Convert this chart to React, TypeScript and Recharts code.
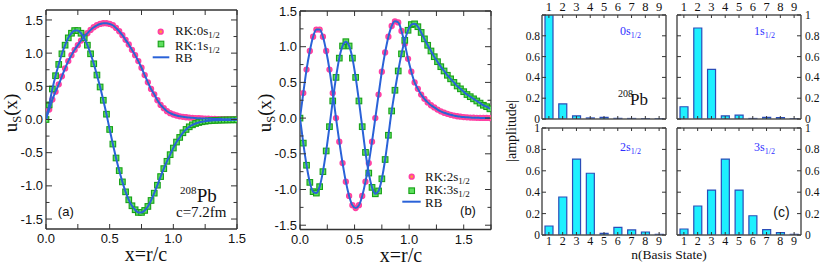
import React from 'react';
import { ComposedChart, BarChart, Bar, Line, Scatter, XAxis, YAxis } from 'recharts';

// panel (a): 208Pb, c = 7.2 fm
const xA = [
  0, 0.025, 0.05, 0.075, 0.1, 0.125, 0.15, 0.175, 0.2, 0.225, 0.25, 0.275, 0.3, 0.325, 0.35, 0.375,
  0.4, 0.425, 0.45, 0.475, 0.5, 0.525, 0.55, 0.575, 0.6, 0.625, 0.65, 0.675, 0.7, 0.725, 0.75, 0.775,
  0.8, 0.825, 0.85, 0.875, 0.9, 0.925, 0.95, 0.975, 1.0, 1.025, 1.05, 1.075, 1.1, 1.125, 1.15, 1.175,
  1.2, 1.225, 1.25, 1.275, 1.3, 1.325, 1.35, 1.375, 1.4, 1.425, 1.45, 1.475, 1.5,
];
const u0s = [
  0, 0.15, 0.3, 0.42, 0.53, 0.65, 0.77, 0.88, 0.97, 1.05, 1.12, 1.19, 1.25, 1.3, 1.35, 1.39,
  1.42, 1.44, 1.45, 1.45, 1.44, 1.42, 1.38, 1.33, 1.27, 1.2, 1.13, 1.05, 0.97, 0.88, 0.78, 0.67,
  0.56, 0.46, 0.38, 0.29, 0.22, 0.17, 0.125, 0.095, 0.075, 0.06, 0.048, 0.04, 0.034, 0.029, 0.025, 0.022,
  0.019, 0.016, 0.014, 0.012, 0.01, 0.008, 0.007, 0.006, 0.005, 0.004, 0.003, 0.002, 0.002,
];
const u1s = [
  0, 0.22, 0.46, 0.66, 0.83, 0.99, 1.12, 1.23, 1.3, 1.34, 1.34, 1.3, 1.23, 1.12, 0.99, 0.84,
  0.67, 0.49, 0.29, 0.08, -0.15, -0.37, -0.58, -0.77, -0.94, -1.09, -1.21, -1.3, -1.36, -1.4, -1.4, -1.37,
  -1.31, -1.22, -1.11, -0.99, -0.86, -0.74, -0.63, -0.53, -0.43, -0.34, -0.27, -0.2, -0.15, -0.11, -0.08, -0.06,
  -0.045, -0.034, -0.026, -0.02, -0.016, -0.013, -0.011, -0.009, -0.008, -0.007, -0.006, -0.005, -0.005,
];

// panel (b)
const xB = [
  0, 0.03, 0.06, 0.09, 0.12, 0.15, 0.18, 0.21, 0.24, 0.27, 0.3, 0.33, 0.36, 0.39, 0.42, 0.45,
  0.48, 0.51, 0.54, 0.57, 0.6, 0.63, 0.66, 0.69, 0.72, 0.75, 0.78, 0.81, 0.84, 0.87, 0.9, 0.93,
  0.96, 0.99, 1.02, 1.05, 1.08, 1.11, 1.14, 1.17, 1.2, 1.23, 1.26, 1.29, 1.32, 1.35, 1.38, 1.41,
  1.44, 1.47, 1.5, 1.53, 1.56, 1.59, 1.62, 1.65, 1.68, 1.71, 1.74,
];
const u2s = [
  0, 0.35, 0.68, 0.94, 1.14, 1.24, 1.24, 1.14, 0.94, 0.68, 0.35, 0, -0.33, -0.63, -0.89, -1.09,
  -1.22, -1.26, -1.22, -1.09, -0.89, -0.63, -0.33, 0, 0.33, 0.65, 0.92, 1.14, 1.29, 1.355, 1.34, 1.22,
  1.04, 0.83, 0.65, 0.5, 0.41, 0.33, 0.27, 0.22, 0.18, 0.15, 0.12, 0.095, 0.075, 0.06, 0.046, 0.035,
  0.026, 0.02, 0.015, 0.011, 0.008, 0.006, 0.004, 0.003, 0.002, 0.002, 0.001,
];
const u3s = [
  0, -0.35, -0.66, -0.9, -1.03, -1.05, -0.96, -0.75, -0.46, -0.12, 0.24, 0.57, 0.84, 1.01, 1.07, 1.01,
  0.84, 0.57, 0.24, -0.12, -0.48, -0.77, -0.97, -1.06, -1.02, -0.85, -0.58, -0.24, 0.1, 0.39, 0.66, 0.9,
  1.09, 1.23, 1.31, 1.32, 1.28, 1.2, 1.11, 1.02, 0.94, 0.86, 0.79, 0.72, 0.66, 0.6, 0.55, 0.5,
  0.45, 0.41, 0.37, 0.33, 0.3, 0.27, 0.24, 0.21, 0.18, 0.16, 0.13,
];

// panel (c): |amplitude| on basis states n = 1..9
const basisN = [1, 2, 3, 4, 5, 6, 7, 8, 9];
const amp0s = [1.0, 0.145, 0.03, 0.01, 0.016, 0.006, 0.005, 0.004, 0.003];
const amp1s = [0.118, 0.875, 0.478, 0.03, 0.038, 0.005, 0.016, 0.013, 0.003];
const amp2s = [0.084, 0.355, 0.71, 0.577, 0.016, 0.072, 0.047, 0.028, 0.006];
const amp3s = [0.056, 0.271, 0.42, 0.71, 0.42, 0.18, 0.05, 0.022, 0.006];

const xTicksA = [0, 0.25, 0.5, 0.75, 1, 1.25, 1.5];
const xTicksB = [0, 0.25, 0.5, 0.75, 1, 1.25, 1.5, 1.75];
const yTicksU = [-1.5, -1.25, -1, -0.75, -0.5, -0.25, 0, 0.25, 0.5, 0.75, 1, 1.25, 1.5];
const ampTicks = [0, 0.2, 0.4, 0.6, 0.8, 1];

const rowsA = xA.map((x, i) => ({ x, s0: u0s[i], s1: u1s[i] }));
const rowsB = xB.map((x, i) => ({ x, s2: u2s[i], s3: u3s[i] }));
const ampRows = (a: number[]) => basisN.map((n, i) => ({ n, a: a[i] }));

const serif = '"Liberation Serif", "Times New Roman", serif';
const sans = '"Liberation Sans", Arial, Helvetica, sans-serif';
const INK = '#333';
const BLUE = '#2a62d8';
const LBL = '#3030ff';

const half = (v: number) => Math.abs(v * 2 - Math.round(v * 2)) < 1e-6;

type TickCfg = {
  side: 'left' | 'right' | 'top' | 'bottom';
  gap: number;
  len: (v: number) => number;
  label: (v: number) => string | null;
  font?: string;
  size?: number;
};

// ticks point into the plot, label sits outside
const inTick = (c: TickCfg) => (p: any) => {
  const { x, y, payload } = p;
  const v = Number(payload.value);
  const len = c.len(v);
  const lab = c.label(v);
  let x1 = x, y1 = y, x2 = x, y2 = y;
  let anchor = 'middle';
  let dy = '0.35em';
  if (c.side === 'left') { x1 = x + c.gap; x2 = x1 + len; anchor = 'end'; }
  else if (c.side === 'right') { x1 = x - c.gap; x2 = x1 - len; anchor = 'start'; }
  else if (c.side === 'bottom') { y1 = y - c.gap; y2 = y1 - len; dy = '0.71em'; }
  else { y1 = y + c.gap; y2 = y1 + len; dy = '0'; }
  return (
    <g>
      {len > 0 && <line x1={x1} y1={y1} x2={x2} y2={y2} stroke={INK} strokeWidth={1} />}
      {lab !== null && (
        <text x={x} y={y} dy={dy} textAnchor={anchor} fontFamily={c.font} fontSize={c.size} fill="#111">
          {lab}
        </text>
      )}
    </g>
  );
};

const PinkDot = (p: any) => (
  <circle cx={p.cx} cy={p.cy} r={2.3} fill="#ff9a3c" stroke="#ff3fa4" strokeWidth={1.7} />
);
const GreenSq = (p: any) => (
  <rect x={p.cx - 2.8} y={p.cy - 2.8} width={5.6} height={5.6} fill="#5ee05e" stroke="#17a017" strokeWidth={1.1} />
);

const axisLine = { stroke: INK, strokeWidth: 1.3 };

type WaveProps = {
  rows: any[];
  keys: [string, string];
  xMax: number;
  xTicks: number[];
  yDomain: [number, number];
  w: number;
  h: number;
  left: number;
  right: number;
  top: number;
  bottom: number;
};

const WavePanel = ({ rows, keys, xMax, xTicks, yDomain, w, h, left, right, top, bottom }: WaveProps) => {
  const xLab = (v: number) => (half(v) ? v.toFixed(1) : null);
  const yLen = (v: number) => (half(v) ? 6 : 3.5);
  return (
    <ComposedChart width={w} height={h} data={rows} margin={{ top: 0, right: 0, bottom: 0, left: 0 }}>
      <XAxis xAxisId="b" dataKey="x" type="number" domain={[0, xMax]} ticks={xTicks} interval={0}
        orientation="bottom" height={bottom} tickSize={0} tickMargin={5} tickLine={false} axisLine={axisLine}
        allowDataOverflow tick={inTick({ side: 'bottom', gap: 5, len: () => 5, label: xLab, font: sans, size: 13 })} />
      <XAxis xAxisId="t" dataKey="x" type="number" domain={[0, xMax]} ticks={xTicks} interval={0}
        orientation="top" height={top} tickSize={0} tickMargin={0} tickLine={false} axisLine={axisLine}
        allowDataOverflow tick={inTick({ side: 'top', gap: 0, len: () => 5, label: () => null })} />
      <YAxis yAxisId="l" type="number" domain={yDomain} ticks={yTicksU} interval={0}
        orientation="left" width={left} tickSize={0} tickMargin={3} tickLine={false} axisLine={axisLine}
        allowDataOverflow tick={inTick({ side: 'left', gap: 3, len: yLen, label: (v) => (half(v) ? v.toFixed(1) : null), font: sans, size: 13 })} />
      <YAxis yAxisId="r" type="number" domain={yDomain} ticks={yTicksU} interval={0}
        orientation="right" width={right} tickSize={0} tickMargin={0} tickLine={false} axisLine={axisLine}
        allowDataOverflow tick={inTick({ side: 'right', gap: 0, len: yLen, label: () => null })} />
      <Scatter xAxisId="b" yAxisId="l" data={rows} dataKey={keys[0]} shape={PinkDot} isAnimationActive={false} />
      <Scatter xAxisId="b" yAxisId="l" data={rows} dataKey={keys[1]} shape={GreenSq} isAnimationActive={false} />
      <Line xAxisId="b" yAxisId="l" dataKey={keys[0]} type="monotone" stroke={BLUE} strokeWidth={2}
        dot={false} activeDot={false} isAnimationActive={false} zIndex={700} />
      <Line xAxisId="b" yAxisId="l" dataKey={keys[1]} type="monotone" stroke={BLUE} strokeWidth={2}
        dot={false} activeDot={false} isAnimationActive={false} zIndex={700} />
    </ComposedChart>
  );
};

type Box = { x: number; y: number; w: number; h: number };

const AmpPanel = ({ box, amps, row, col }: { box: Box; amps: number[]; row: 'top' | 'bottom'; col: 'left' | 'right' }) => {
  const pad = 30;
  const padY = 15;
  const yLabel = (side: 'left' | 'right') => (v: number) => {
    if (side !== col) return null;
    if (row === 'top' && col === 'left' && v === 1) return null;
    return String(v);
  };
  const nLabel = (side: 'top' | 'bottom') => (v: number) => (side === row ? String(v) : null);
  const labeledX = row === 'top' ? 't' : 'b';
  return (
    <div style={{ position: 'absolute', left: box.x - pad, top: box.y - padY }}>
      <BarChart width={box.w + 2 * pad} height={box.h + 2 * padY} data={ampRows(amps)} barSize={8}
        margin={{ top: 0, right: 0, bottom: 0, left: 0 }}>
        <XAxis xAxisId="b" dataKey="n" orientation="bottom" height={padY} interval={0} tickSize={0}
          tickMargin={1} tickLine={false} axisLine={{ stroke: '#555', strokeWidth: 1.5 }}
          tick={inTick({ side: 'bottom', gap: 1, len: () => 3, label: nLabel('bottom'), font: serif, size: 12 })} />
        <XAxis xAxisId="t" dataKey="n" orientation="top" height={padY} interval={0} tickSize={0}
          tickMargin={4} tickLine={false} axisLine={{ stroke: '#555', strokeWidth: 1.5 }}
          tick={inTick({ side: 'top', gap: 4, len: () => 3, label: nLabel('top'), font: serif, size: 12.5 })} />
        <YAxis yAxisId="l" type="number" domain={[0, 1]} ticks={ampTicks} interval={0} orientation="left"
          width={pad} tickSize={0} tickMargin={2} tickLine={false} axisLine={{ stroke: '#555', strokeWidth: 1.5 }}
          allowDataOverflow tick={inTick({ side: 'left', gap: 2, len: () => 4, label: yLabel('left'), font: serif, size: 11.5 })} />
        <YAxis yAxisId="r" type="number" domain={[0, 1]} ticks={ampTicks} interval={0} orientation="right"
          width={pad} tickSize={0} tickMargin={4} tickLine={false} axisLine={{ stroke: '#555', strokeWidth: 1.5 }}
          allowDataOverflow tick={inTick({ side: 'right', gap: 4, len: () => 4, label: yLabel('right'), font: serif, size: 11.5 })} />
        <Bar xAxisId={labeledX} yAxisId="l" dataKey="a" fill="#1ef0ff" stroke="#2a4db8" strokeWidth={1.2}
          isAnimationActive={false} />
      </BarChart>
    </div>
  );
};

const Overlay = () => (
  <svg width={822} height={268} style={{ position: 'absolute', left: 0, top: 0, pointerEvents: 'none' }}>
    {/* panel (a) */}
    <text x={17} y={113} transform="rotate(-90, 17, 113)" textAnchor="middle" fontFamily={serif} fontSize={19} fill="#111">
      u<tspan dy={4} fontSize={12.5}>S</tspan><tspan dy={-4} fontSize={19}>(x)</tspan>
    </text>
    <text x={146} y={261} textAnchor="middle" fontFamily={serif} fontSize={20} fill="#111">x=r/c</text>
    <circle cx={160.7} cy={31.7} r={2.3} fill="#ff9a3c" stroke="#ff3fa4" strokeWidth={1.7} />
    <text x={175} y={35} fontFamily={serif} fontSize={13} fill="#111">RK:0s<tspan dy={3} fontSize={9}>1/2</tspan></text>
    <rect x={158.2} y={41.2} width={5.6} height={5.6} fill="#5ee05e" stroke="#17a017" strokeWidth={1.1} />
    <text x={175} y={49.5} fontFamily={serif} fontSize={13} fill="#111">RK:1s<tspan dy={3} fontSize={9}>1/2</tspan></text>
    <line x1={152.7} y1={57.3} x2={169.3} y2={57.3} stroke={BLUE} strokeWidth={2} />
    <text x={175} y={61.5} fontFamily={serif} fontSize={13} fill="#111">RB</text>
    <text x={180} y={194} fontFamily={serif} fontSize={11} fill="#111">208</text>
    <text x={196.7} y={201.7} fontFamily={serif} fontSize={19} fill="#111">Pb</text>
    <text x={176} y={216.5} fontFamily={serif} fontSize={15} fill="#111">c=7.2fm</text>
    <text x={65.8} y={216} textAnchor="middle" fontFamily={sans} fontSize={13} fill="#111">(a)</text>

    {/* panel (b) */}
    <text x={271} y={113} transform="rotate(-90, 271, 113)" textAnchor="middle" fontFamily={serif} fontSize={19} fill="#111">
      u<tspan dy={4} fontSize={12.5}>S</tspan><tspan dy={-4} fontSize={19}>(x)</tspan>
    </text>
    <text x={401} y={262} textAnchor="middle" fontFamily={serif} fontSize={20} fill="#111">x=r/c</text>
    <circle cx={411.7} cy={176.7} r={2.3} fill="#ff9a3c" stroke="#ff3fa4" strokeWidth={1.7} />
    <text x={425} y={181} fontFamily={serif} fontSize={13} fill="#111">RK:2s<tspan dy={3} fontSize={9}>1/2</tspan></text>
    <rect x={408.9} y={187.9} width={5.6} height={5.6} fill="#5ee05e" stroke="#17a017" strokeWidth={1.1} />
    <text x={425} y={194.3} fontFamily={serif} fontSize={13} fill="#111">RK:3s<tspan dy={3} fontSize={9}>1/2</tspan></text>
    <line x1={402.3} y1={201.7} x2={420.7} y2={201.7} stroke={BLUE} strokeWidth={2} />
    <text x={425} y={206.5} fontFamily={serif} fontSize={13} fill="#111">RB</text>
    <text x={468} y={215} textAnchor="middle" fontFamily={sans} fontSize={13} fill="#111">(b)</text>

    {/* panel (c) */}
    <text x={516} y={131} transform="rotate(-90, 516, 131)" textAnchor="middle" fontFamily={serif} fontSize={14} fill="#111">|amplitude|</text>
    <text x={669} y={259} textAnchor="middle" fontFamily={serif} fontSize={13.5} fill="#111">n(Basis State)</text>
    <text x={620} y={35} fontFamily={serif} fontSize={12} fill={LBL}>0s<tspan dy={2.5} fontSize={8}>1/2</tspan></text>
    <text x={754} y={35} fontFamily={serif} fontSize={12} fill={LBL}>1s<tspan dy={2.5} fontSize={8}>1/2</tspan></text>
    <text x={620} y={151} fontFamily={serif} fontSize={12} fill={LBL}>2s<tspan dy={2.5} fontSize={8}>1/2</tspan></text>
    <text x={754} y={151} fontFamily={serif} fontSize={12} fill={LBL}>3s<tspan dy={2.5} fontSize={8}>1/2</tspan></text>
    <text x={618} y={97} fontFamily={serif} fontSize={10} fill="#111">208</text>
    <text x={630} y={105} fontFamily={serif} fontSize={17} fill="#111">Pb</text>
    <text x={781.5} y={217} textAnchor="middle" fontFamily={sans} fontSize={14} fill="#111">(c)</text>
  </svg>
);

const boxTL: Box = { x: 542, y: 15, w: 124, h: 104 };
const boxTR: Box = { x: 677, y: 15, w: 124, h: 104 };
const boxBL: Box = { x: 542, y: 128, w: 124, h: 107 };
const boxBR: Box = { x: 677, y: 128, w: 124, h: 107 };

export default function App() {
  return (
    <div style={{ position: 'absolute', left: 0, top: 0, width: 822, height: 268, background: '#fff', overflow: 'hidden' }}>
      <div style={{ position: 'absolute', left: 0, top: 0 }}>
        <WavePanel rows={rowsA} keys={['s0', 's1']} xMax={1.5} xTicks={xTicksA} yDomain={[-1.65, 1.65]}
          w={250} h={268} left={46} right={13} top={10} bottom={39} />
      </div>
      <div style={{ position: 'absolute', left: 250, top: 0 }}>
        <WavePanel rows={rowsB} keys={['s2', 's3']} xMax={1.75} xTicks={xTicksB} yDomain={[-1.56, 1.5]}
          w={250} h={268} left={50} right={9} top={11} bottom={38.5} />
      </div>
      <AmpPanel box={boxTL} amps={amp0s} row="top" col="left" />
      <AmpPanel box={boxTR} amps={amp1s} row="top" col="right" />
      <AmpPanel box={boxBL} amps={amp2s} row="bottom" col="left" />
      <AmpPanel box={boxBR} amps={amp3s} row="bottom" col="right" />
      <Overlay />
    </div>
  );
}
